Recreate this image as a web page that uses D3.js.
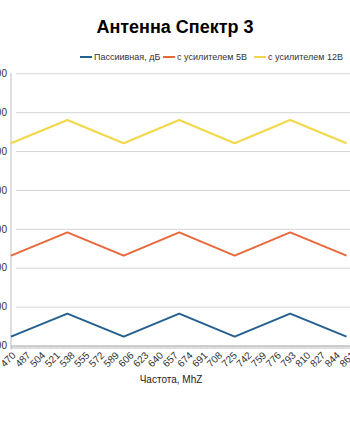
<!DOCTYPE html>
<html><head><meta charset="utf-8">
<script src="https://cdn.jsdelivr.net/npm/d3@7"></script>
<style>
html,body{margin:0;padding:0;background:#fff;overflow:hidden}
svg{display:block;font-family:"Liberation Sans",Arial,sans-serif}
</style></head>
<body>
<svg id="c" width="350" height="435"></svg>
<script>
const title = "Антенна Спектр 3";
const xTitle = "Частота, MhZ";
const seriesNames = ["Пассиивная, дБ", "с усилителем 5В", "с усилителем 12В"];
const seriesColors = ["#255f8f", "#e9683a", "#f2d848"];
const freqs = [470, 535, 600, 664, 728, 792, 857];
const passive = [2.3, 8.2, 2.3, 8.2, 2.3, 8.2, 2.3];
const amp5 = [23.1, 29.1, 23.1, 29.1, 23.1, 29.1, 23.1];
const amp12 = [52.0, 58.0, 52.0, 58.0, 52.0, 58.0, 52.0];
const xLabels = [470,487,504,521,538,555,572,589,606,623,640,657,674,691,708,725,742,759,776,793,810,827,844,861];
const yTicks = [0,10,20,30,40,50,60,70];
const yTickLabels = ["0,00","10,00","20,00","30,00","40,00","50,00","60,00","70,00"];

const svg = d3.select("#c");
const L = 11, R = 350, T = 73.3, B = 345.5;
const x = d3.scaleLinear().domain([470, 861]).range([L, R]);
const y = d3.scaleLinear().domain([0, 70]).range([B, T]);

// title
svg.append("text").attr("x", 175).attr("y", 33).attr("text-anchor", "middle")
  .attr("font-size", 18).attr("font-weight", "bold").attr("fill", "#000").text(title);

// legend
const legX = [80, 163, 254];
seriesNames.forEach((n, i) => {
  const g = svg.append("g").attr("transform", `translate(${legX[i]},57)`);
  g.append("line").attr("x1", 0).attr("x2", 12).attr("y1", 0).attr("y2", 0)
    .attr("stroke", seriesColors[i]).attr("stroke-width", 2);
  g.append("text").attr("x", 14).attr("y", 3.2).attr("font-size", 9).attr("fill", "#333").text(n);
});

// gridlines
const gy = svg.append("g").attr("transform", `translate(${L},0)`)
  .call(d3.axisLeft(y).tickValues(yTicks).tickSize(-(R - L + 5)).tickFormat((d, i) => yTickLabels[i]));
gy.select(".domain").remove();
gy.selectAll(".tick line").attr("stroke", "#d4d4d4").attr("stroke-width", 1).attr("x1", 5);
gy.selectAll(".tick text").attr("x", -4).attr("font-size", 10).attr("fill", "#333")
  .attr("font-family", "Liberation Sans, Arial, sans-serif");

// left axis line
svg.append("line").attr("x1", L).attr("x2", L).attr("y1", T).attr("y2", B + 4)
  .attr("stroke", "#bdbdbd").attr("stroke-width", 1);

// bottom axis with dense ticks
const allF = d3.range(470, 862, 1);
const gx = svg.append("g").attr("transform", `translate(0,${B})`)
  .call(d3.axisBottom(x).tickValues(allF).tickSize(3.5).tickFormat(""));
gx.select(".domain").attr("stroke", "#bdbdbd");
gx.selectAll(".tick line").attr("stroke", "#c8c8c8").attr("stroke-width", 0.6);

// x labels
svg.append("g").selectAll("text").data(xLabels).join("text")
  .attr("transform", d => `translate(${x(d) + 3},${B + 8}) rotate(-45)`)
  .attr("text-anchor", "end").attr("dy", "0.35em")
  .attr("font-size", 10).attr("fill", "#333").text(d => d);

// x title
svg.append("text").attr("x", 171).attr("y", 383).attr("text-anchor", "middle")
  .attr("font-size", 10).attr("fill", "#222").text(xTitle);

// lines
const line = d3.line().x((d, i) => x(freqs[i])).y(d => y(d));
[passive, amp5, amp12].forEach((s, i) => {
  svg.append("path").datum(s).attr("d", line).attr("fill", "none")
    .attr("stroke", seriesColors[i]).attr("stroke-width", 2).attr("stroke-linejoin", "round");
});
</script>
</body></html>
